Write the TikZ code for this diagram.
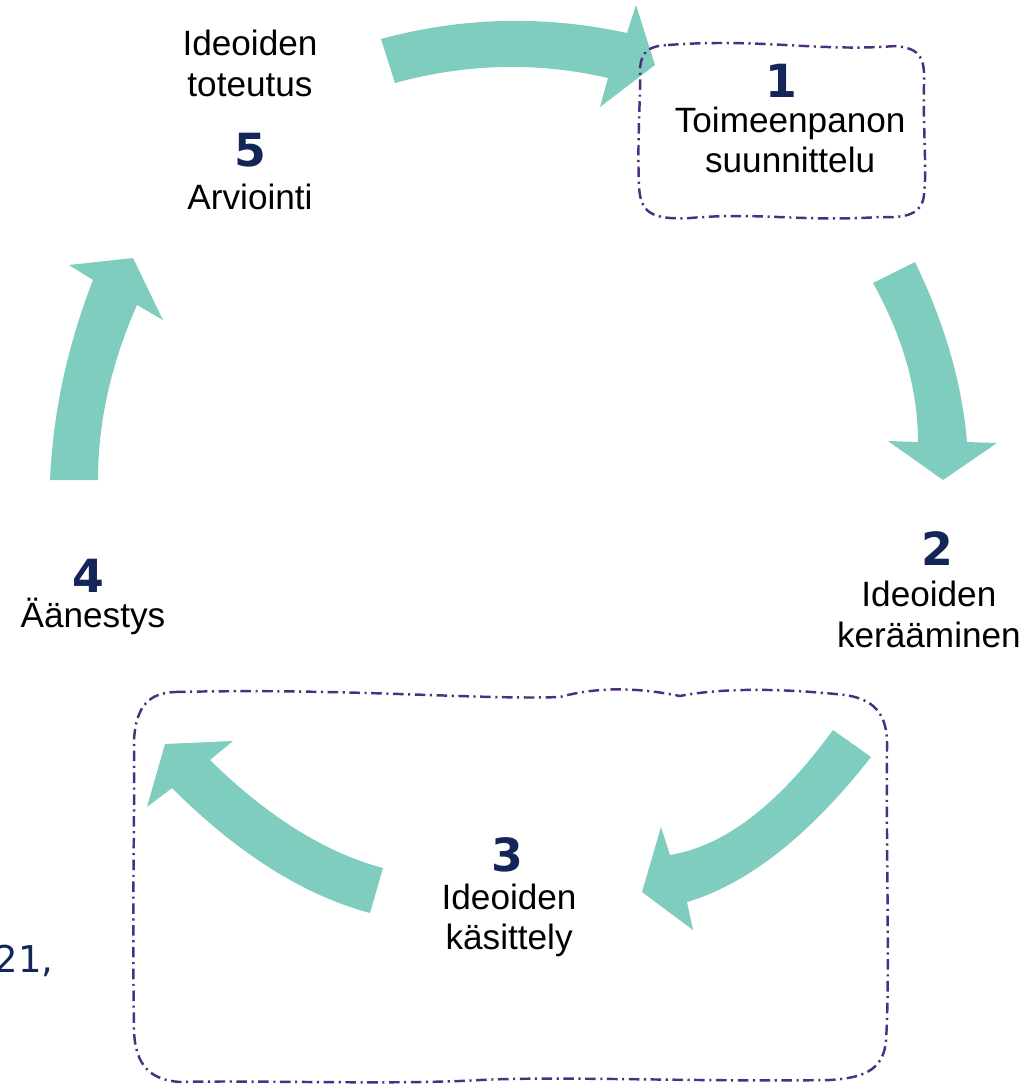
\documentclass[tikz,border=0pt]{standalone}
\usepackage{fontspec}
\setmainfont{Liberation Sans}
\newfontfamily\numfont{DejaVu Sans}
\usepackage{tikz}
\usetikzlibrary{positioning}
\definecolor{arrowteal}{RGB}{127,205,190}
\definecolor{numblue}{RGB}{20,38,88}
\definecolor{framepurple}{RGB}{78,46,128}

\begin{document}
\begin{tikzpicture}[x = 0.01cm, y = -0.01cm,
        Num/.style = {font = \numfont\bfseries\fontsize{13}{13}\selectfont, text = numblue, inner sep = 0pt},
        Label/.style = {align = center, font = \fontsize{10}{11.5}\selectfont, inner sep = 0pt},
        Arrow/.style = {fill = arrowteal, draw = none},
        Frame/.style = {draw = framepurple, line width = 0.7pt, dash pattern = on 3pt off 1.3pt on 0.6pt off 1.3pt}]
        \useasboundingbox (0,0) rectangle (1030,1087);

        % curved block arrows, 5 -> 1 -> 2 -> 3 -> 4 -> 5
        \fill [Arrow] (381,39) .. controls (462,17) and (544,15) .. (627,33) -- (636,5) -- (655,65) -- (600,107) -- (608,78)
            .. controls (539,62) and (468,63) .. (395,83) -- cycle;
        \fill [Arrow] (915,262) .. controls (944,322) and (962,382) .. (967,442) -- (997,443) -- (943,480) -- (888,441) -- (918,442)
            .. controls (918,390) and (903,337) .. (873,283) -- cycle;
        \fill [Arrow] (871,757) .. controls (810,835) and (748,884) .. (687,902) -- (693,930) -- (642,892) -- (661,827) -- (670,855)
            .. controls (725,846) and (779,804) .. (833,730) -- cycle;
        \fill [Arrow] (370,913) .. controls (303,895) and (237,853) .. (172,788) -- (147,807) -- (165,744) -- (233,741) -- (210,760)
            .. controls (268,817) and (326,853) .. (383,868) -- cycle;
        \fill [Arrow] (98,480) .. controls (98,422) and (111,364) .. (137,305) -- (163,320) -- (133,258) -- (69,265) -- (93,280)
            .. controls (67,347) and (53,413) .. (50,480) -- cycle;

        % dash-dot frames
        \draw [Frame] (668,45) .. controls (760,38) and (820,52) .. (895,46)
            .. controls (922,48) and (925,60) .. (924,85)
            .. controls (923,130) and (927,170) .. (924,195)
            .. controls (922,215) and (905,218) .. (880,217)
            .. controls (800,222) and (760,212) .. (690,218)
            .. controls (650,220) and (640,212) .. (639,185)
            .. controls (637,140) and (641,90) .. (640,70)
            .. controls (641,50) and (650,46) .. (668,45) -- cycle;
        \draw [Frame] (175,692) .. controls (350,688) and (480,700) .. (560,697)
            .. controls (600,686) and (640,688) .. (680,696)
            .. controls (720,688) and (780,688) .. (845,695)
            .. controls (880,700) and (888,720) .. (887,750)
            .. controls (886,850) and (890,980) .. (886,1040)
            .. controls (884,1072) and (860,1078) .. (830,1080)
            .. controls (700,1082) and (560,1076) .. (480,1080)
            .. controls (400,1085) and (250,1080) .. (180,1082)
            .. controls (150,1080) and (135,1065) .. (134,1030)
            .. controls (132,900) and (135,800) .. (134,740)
            .. controls (136,705) and (150,693) .. (175,692) -- cycle;

        % stage numbers
        \node [Num] (1) at (781,81) {1};
        \node [Num] (2) at (937,549) {2};
        \node [Num] (3) at (507,855) {3};
        \node [Num] (4) at (88,576) {4};
        \node [Num] (5) at (250,150) {5};

        % stage texts
        \node [Label, below = 2.2pt of 1, xshift = 2.6pt] (6) {Toimeenpanon\\suunnittelu};
        \node [Label, below = 4pt of 2, xshift = -2.3pt] (7) {Ideoiden\\kerääminen};
        \node [Label, below = 2.8pt of 3, xshift = 0.6pt] (8) {Ideoiden\\käsittely};
        \node [Label, below = 1pt of 4, xshift = 1.4pt] (9) {Äänestys};
        \node [Label, below = 4.3pt of 5] (10) {Arviointi};
        \node [Label, above = 10pt of 5] (11) {Ideoiden\\toteutus};

        \node [anchor = base east, font = \numfont\fontsize{10.5}{10.5}\selectfont, text = numblue, inner sep = 0pt] (12) at (54,972) {21,};
    \end{tikzpicture}
\end{document}
